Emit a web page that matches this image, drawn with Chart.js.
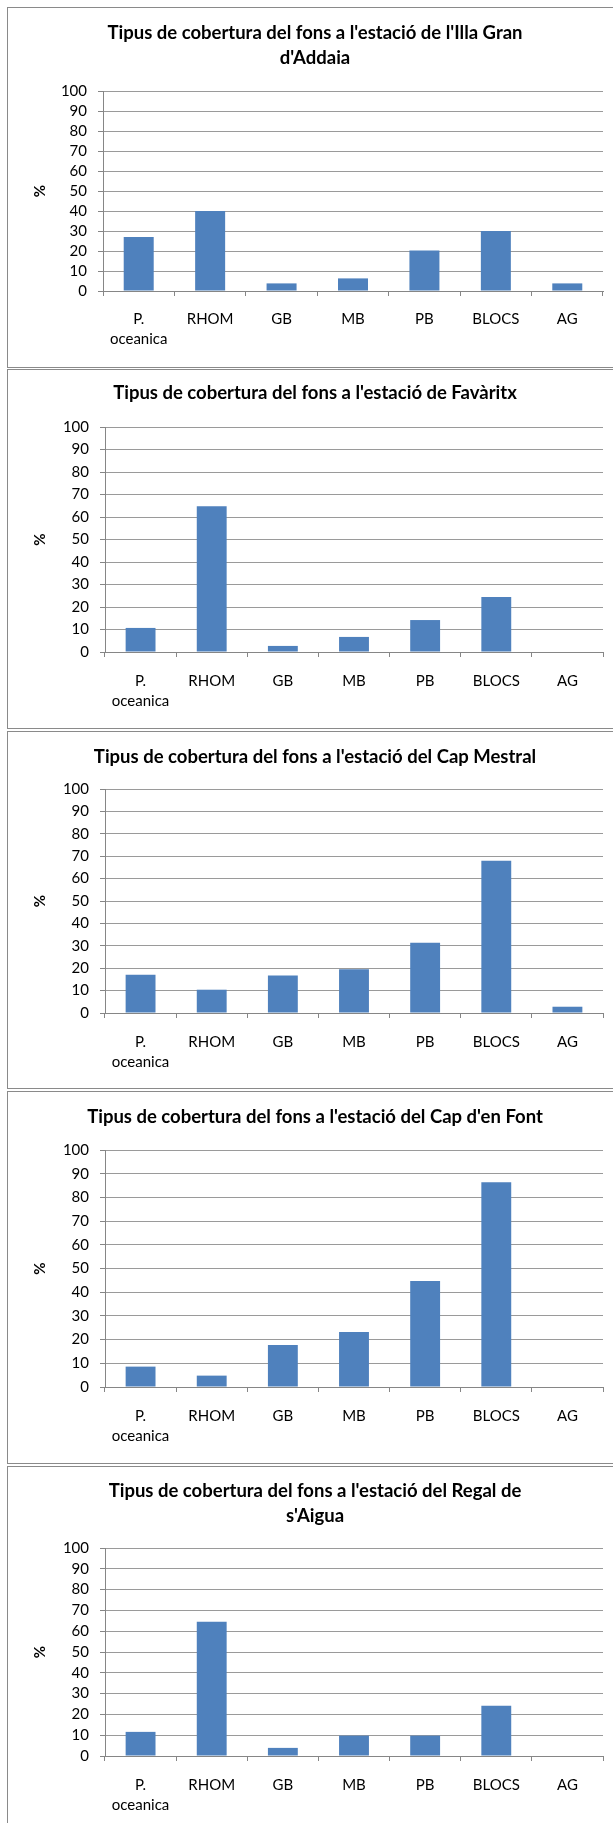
<!DOCTYPE html>
<html>
<head>
<meta charset="utf-8">
<title>Tipus de cobertura del fons</title>
<script src="https://cdn.jsdelivr.net/npm/chart.js@4.4.1/dist/chart.umd.min.js"></script>
<style>
  html, body { margin: 0; padding: 0; background: #fff; overflow: hidden; }
  body { width: 613px; height: 1823px; position: relative; }
  .frame { position: absolute; left: 7px; width: 700px; border: 1px solid #8a8a8a; box-sizing: border-box; }
  canvas { position: absolute; left: 0; }
</style>
</head>
<body>
<script>
// Bottom-cover categories (the first one wraps over two lines)
const categories = [['P.', 'oceanica'], 'RHOM', 'GB', 'MB', 'PB', 'BLOCS', 'AG'];

// Value-axis tick labels (%)
const yTickValues = [0, 10, 20, 30, 40, 50, 60, 70, 80, 90, 100];

// Station titles
const titles = [
  ["Tipus de cobertura del fons a l'estació de l'Illa Gran", "d'Addaia"],
  ["Tipus de cobertura del fons a l'estació de Favàritx"],
  ["Tipus de cobertura del fons a l'estació del Cap Mestral"],
  ["Tipus de cobertura del fons a l'estació del Cap d'en Font"],
  ["Tipus de cobertura del fons a l'estació del Regal de", "s'Aigua"]
];

// Cover (%) per category at each station
const illaGranAddaia = [27, 40, 3.8, 6.3, 20.3, 30, 3.8];
const favaritx       = [10.7, 64.8, 2.7, 6.7, 14.2, 24.4, 0];
const capMestral     = [17.1, 10.4, 16.7, 19.5, 31.4, 68.0, 2.8];
const capDenFont     = [8.6, 4.8, 17.7, 23.2, 44.7, 86.4, 0];
const regalDeSaigua  = [11.6, 64.5, 3.9, 9.8, 9.8, 24.1, 0];

const stations = [illaGranAddaia, favaritx, capMestral, capDenFont, regalDeSaigua];

// Page geometry of each framed chart
const frames = [
  { top: 7,    bottom: 367,  axisX: 103, plotTop: 91,   plotBottom: 291,  titleY: 33,   labelGap: 28 },
  { top: 369,  bottom: 728,  axisX: 105, plotTop: 427,  plotBottom: 652,  titleY: 393,  labelGap: 29 },
  { top: 731,  bottom: 1088, axisX: 105, plotTop: 789,  plotBottom: 1013, titleY: 757,  labelGap: 29 },
  { top: 1091, bottom: 1463, axisX: 105, plotTop: 1150, plotBottom: 1387, titleY: 1117, labelGap: 29 },
  { top: 1466, bottom: 1900, axisX: 105, plotTop: 1548, plotBottom: 1756, titleY: 1491, labelGap: 29 }
];

const FONT = 'Lato, "Open Sans", sans-serif';
const BAR = '#4F81BD';
const GRID = '#9a9a9a';
const AXIS = '#868686';
const PAGE_W = 613, PAGE_H = 1823;
const PAD_LEFT = 27, PAD_RIGHT = 10;
const TITLE_SIZE = 18.5, TITLE_LH = 25;
const TICK_SIZE = 15, TICK_LH = 20;
const TICK_LEN = 5;

frames.forEach((f, i) => {
  const box = document.createElement('div');
  box.className = 'frame';
  box.style.top = f.top + 'px';
  box.style.height = (f.bottom - f.top + 1) + 'px';
  document.body.appendChild(box);

  const cTop = f.top + 1;
  const cBottom = Math.min(f.bottom, PAGE_H);
  const canvas = document.createElement('canvas');
  canvas.width = PAGE_W;
  canvas.height = cBottom - cTop;
  canvas.style.top = cTop + 'px';
  canvas.style.width = PAGE_W + 'px';
  canvas.style.height = (cBottom - cTop) + 'px';
  document.body.appendChild(canvas);

  const lines = titles[i];
  const padTop = f.titleY - cTop - TITLE_LH / 2;
  const padBottom = f.plotTop - cTop - padTop - lines.length * TITLE_LH;
  const xHeight = cBottom - f.plotBottom;
  const yWidth = f.axisX - PAD_LEFT;

  new Chart(canvas.getContext('2d'), {
    type: 'bar',
    data: {
      labels: categories,
      datasets: [{
        data: stations[i],
        backgroundColor: BAR,
        borderWidth: 0,
        barPercentage: 0.42,
        categoryPercentage: 1
      }]
    },
    options: {
      responsive: false,
      animation: false,
      devicePixelRatio: 1,
      layout: { padding: { left: PAD_LEFT, right: PAD_RIGHT, top: 0, bottom: 0 } },
      plugins: {
        legend: { display: false },
        tooltip: { enabled: false },
        title: {
          display: true,
          text: lines,
          color: '#000',
          font: { family: FONT, size: TITLE_SIZE, weight: 'bold', lineHeight: TITLE_LH / TITLE_SIZE },
          padding: { top: padTop, bottom: padBottom }
        }
      },
      scales: {
        x: {
          grid: {
            display: true, drawOnChartArea: false, drawTicks: true,
            tickLength: TICK_LEN, color: AXIS, tickColor: AXIS, offset: true
          },
          border: { display: true, color: AXIS, width: 1 },
          ticks: {
            color: '#000',
            font: { family: FONT, size: TICK_SIZE, lineHeight: TICK_LH / TICK_SIZE },
            padding: f.labelGap - TICK_LEN - TICK_LH / 2,
            maxRotation: 0, minRotation: 0, autoSkip: false
          },
          afterFit: s => { s.height = xHeight; }
        },
        y: {
          min: 0,
          max: 100,
          afterBuildTicks: s => { s.ticks = yTickValues.map(v => ({ value: v })); },
          grid: { color: GRID, tickColor: AXIS, tickLength: TICK_LEN, drawTicks: true },
          border: { display: true, color: AXIS, width: 1 },
          ticks: {
            color: '#000',
            font: { family: FONT, size: TICK_SIZE },
            padding: 16 - TICK_LEN,
            autoSkip: false
          },
          title: {
            display: true,
            text: '%',
            color: '#000',
            font: { family: FONT, size: 15, weight: 'bold', lineHeight: 1.2 },
            padding: { top: 4, bottom: 0 }
          },
          afterFit: s => { s.width = yWidth; }
        }
      }
    }
  });
});
</script>
</body>
</html>
